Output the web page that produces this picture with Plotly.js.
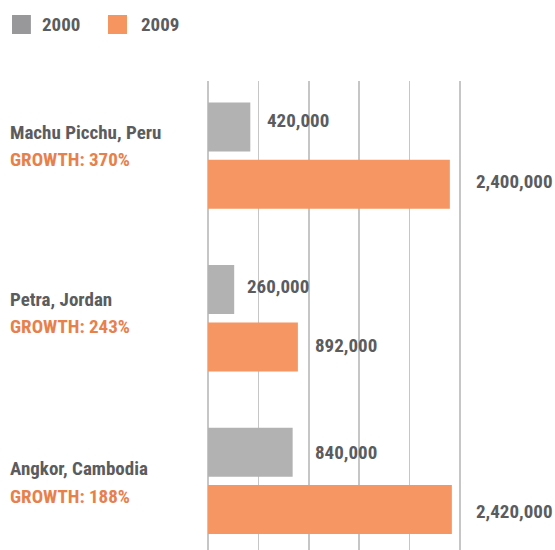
<!DOCTYPE html>
<html>
<head>
<meta charset="utf-8">
<script src="https://cdn.plot.ly/plotly-3.0.1.min.js"></script>
<style>html,body{margin:0;padding:0;background:#fff;}#chart{width:555px;height:550px;}</style>
</head>
<body>
<div id="chart"></div>
<script>
// ---- data ----
const sites = ["Machu Picchu, Peru", "Petra, Jordan", "Angkor, Cambodia"];
const growth = ["GROWTH: 370%", "GROWTH: 243%", "GROWTH: 188%"];
const visitors2000 = [420000, 260000, 840000];
const visitors2009 = [2400000, 892000, 2420000];
const seriesNames = ["2000", "2009"];

// ---- style ----
const FONT = '"Roboto Condensed", "DejaVu Sans Condensed", sans-serif';
const DARK = '#5b5c5e';
const ORANGE_TXT = '#e8804c';
const BAR_GRAY = '#b2b2b3';
const BAR_ORANGE = '#f69662';
const LEG_GRAY = '#98989a';
const LEG_ORANGE = '#f79560';
const xShift2000 = [15, 10.5, 20];
const xShift2009 = [24.5, 15, 22.5];
const yShift2000 = [7, 3, 0];
const yShift2009 = [3, 1, -2];
const nameShift = [22.7, 19.1, 11.9];
const growthShift = [-4.3, -8.4, -15.4];
const barOffset = 0.176;
const FS = 19;

const fmt = v => v.toLocaleString('en-US');

const traces = [
  {type:'bar', orientation:'h', name:seriesNames[0], y:sites, x:visitors2000,
   marker:{color:BAR_GRAY}, hoverinfo:'none'},
  {type:'bar', orientation:'h', name:seriesNames[1], y:sites, x:visitors2009,
   marker:{color:BAR_ORANGE}, hoverinfo:'none'}
];

const annotations = [];
sites.forEach((s, i) => {
  annotations.push({
    xref:'paper', yref:'y', x:-0.763, y:i, xanchor:'left', yanchor:'middle',
    yshift: nameShift[i], showarrow:false, text: s,
    font:{family:FONT, size:FS, color:DARK, weight:700}
  });
  annotations.push({
    xref:'paper', yref:'y', x:-0.763, y:i, xanchor:'left', yanchor:'middle',
    yshift: growthShift[i], showarrow:false, text: growth[i],
    font:{family:FONT, size:FS, color:ORANGE_TXT, weight:700}
  });
  annotations.push({
    xref:'x', yref:'y', x:visitors2000[i], y:i - barOffset, xanchor:'left', yanchor:'middle',
    xshift:xShift2000[i], yshift:yShift2000[i], showarrow:false, text:fmt(visitors2000[i]),
    font:{family:FONT, size:FS, color:DARK, weight:700}
  });
  annotations.push({
    xref:'x', yref:'y', x:visitors2009[i], y:i + barOffset, xanchor:'left', yanchor:'middle',
    xshift:xShift2009[i], yshift:yShift2009[i], showarrow:false, text:fmt(visitors2009[i]),
    font:{family:FONT, size:FS, color:DARK, weight:700}
  });
});
// legend text
annotations.push({xref:'paper', yref:'paper', x:-0.642, y:1.1205, xanchor:'left', yanchor:'middle',
  showarrow:false, text:seriesNames[0], font:{family:FONT, size:19, color:DARK, weight:700}});
annotations.push({xref:'paper', yref:'paper', x:-0.264, y:1.1205, xanchor:'left', yanchor:'middle',
  showarrow:false, text:seriesNames[1], font:{family:FONT, size:19, color:DARK, weight:700}});

const shapes = [
  {type:'rect', xref:'paper', yref:'paper', x0:-0.748, x1:-0.676, y0:1.1002, y1:1.1407,
   fillcolor:LEG_GRAY, line:{width:0}},
  {type:'rect', xref:'paper', yref:'paper', x0:-0.3817, x1:-0.3092, y0:1.1002, y1:1.1407,
   fillcolor:LEG_ORANGE, line:{width:0}}
];

const layout = {
  width:555, height:550,
  margin:{l:208, r:85, t:81, b:0, pad:0},
  paper_bgcolor:'#fff', plot_bgcolor:'#fff',
  showlegend:false,
  barmode:'group', bargap:0.295, bargroupgap:0.145,
  xaxis:{range:[0, 2600000], dtick:500000, tick0:0, showgrid:true, gridcolor:'#c6c6c6', gridwidth:1.5,
         zeroline:true, zerolinecolor:'#c6c6c6', zerolinewidth:1.5, showticklabels:false, ticks:'',
         showline:false, fixedrange:true},
  yaxis:{type:'category', categoryorder:'array', categoryarray:sites, range:[2.425, -0.459],
         showticklabels:false, showgrid:false, zeroline:false, ticks:'', showline:false, fixedrange:true},
  annotations:annotations,
  shapes:shapes
};

Plotly.newPlot('chart', traces, layout, {staticPlot:true, displayModeBar:false});
</script>
</body>
</html>
